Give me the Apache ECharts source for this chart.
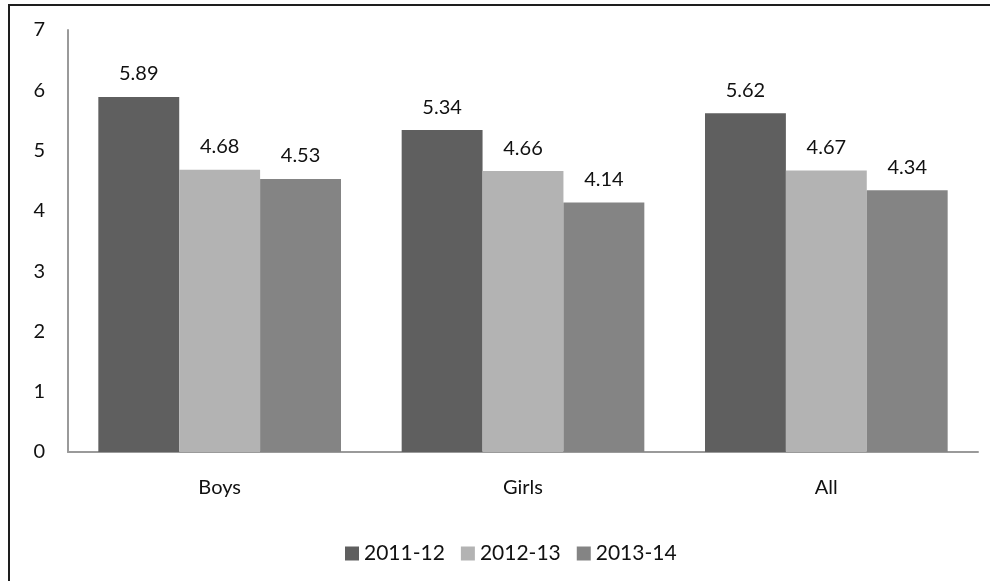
<!DOCTYPE html>
<html>
<head>
<meta charset="utf-8">
<script src="https://cdn.jsdelivr.net/npm/echarts@6/dist/echarts.min.js"></script>
<style>
  html, body { margin: 0; padding: 0; background: #fff; }
  #chart { width: 990px; height: 581px; }
</style>
</head>
<body>
<div id="chart"></div>
<script>
// Groups and yearly values
const categories = ['Boys', 'Girls', 'All'];
const years = ['2011-12', '2012-13', '2013-14'];
const values2011 = [5.89, 5.34, 5.62];
const values2012 = [4.68, 4.66, 4.67];
const values2013 = [4.53, 4.14, 4.34];
const yTicks = [0, 1, 2, 3, 4, 5, 6, 7];

const colors = ['#5f5f5f', '#b3b3b3', '#848484'];
const fontFamily = 'Lato, "Open Sans", sans-serif';
const textColor = '#111111';

const chart = echarts.init(document.getElementById('chart'), null, { renderer: 'canvas' });

function barSeries(name, data, color) {
  return {
    name: name,
    type: 'bar',
    data: data,
    barGap: '0%',
    barCategoryGap: '20%',
    itemStyle: { color: color },
    label: {
      show: true,
      position: 'top',
      distance: 13,
      color: textColor,
      fontFamily: fontFamily,
      fontSize: 20,
      formatter: p => p.value.toFixed(2)
    }
  };
}

chart.setOption({
  animation: false,
  backgroundColor: '#ffffff',
  graphic: [{
    type: 'rect',
    shape: { x: 9, y: 5, width: 1000, height: 600 },
    style: { fill: 'none', stroke: '#1e1e1e', lineWidth: 2 },
    silent: true
  }],
  grid: { left: 68, right: 12, top: 30, bottom: 129 },
  legend: {
    data: years,
    top: 538,
    left: 340,
    itemWidth: 14,
    itemHeight: 14,
    itemGap: 16,
    icon: 'rect',
    textStyle: { fontFamily: fontFamily, fontSize: 21, color: textColor, padding: [0, 0, 0, 0] }
  },
  xAxis: {
    type: 'category',
    data: categories,
    axisLine: { lineStyle: { color: '#9a9a9a', width: 2 } },
    axisTick: { show: false },
    axisLabel: { fontFamily: fontFamily, fontSize: 20, color: textColor, margin: 26 }
  },
  yAxis: {
    type: 'value',
    min: yTicks[0],
    max: yTicks[yTicks.length - 1],
    interval: 1,
    axisLine: { show: true, lineStyle: { color: '#9a9a9a', width: 2 } },
    axisTick: { show: false },
    splitLine: { show: false },
    axisLabel: { fontFamily: fontFamily, fontSize: 20, color: textColor, margin: 23 }
  },
  series: [
    barSeries(years[0], values2011, colors[0]),
    barSeries(years[1], values2012, colors[1]),
    barSeries(years[2], values2013, colors[2])
  ]
});
</script>
</body>
</html>
